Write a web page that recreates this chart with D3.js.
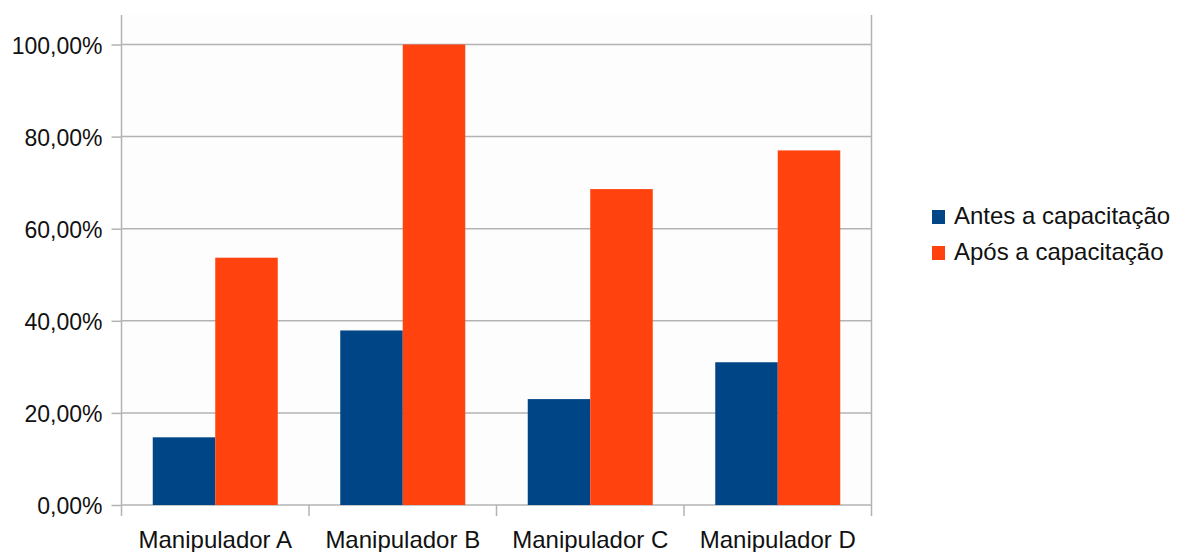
<!DOCTYPE html>
<html>
<head>
<meta charset="utf-8">
<script src="https://cdn.jsdelivr.net/npm/d3@7"></script>
<style>
  html, body { margin: 0; padding: 0; background: #ffffff; }
  svg { display: block; }
  text { font-family: "Liberation Sans", Arial, sans-serif; fill: #111; }
</style>
</head>
<body>
<svg id="chart" width="1179" height="552"></svg>
<script>
// Chart data
const categories = ["Manipulador A", "Manipulador B", "Manipulador C", "Manipulador D"];
const seriesNames = ["Antes a capacitação", "Após a capacitação"];
const antes = [0.147, 0.379, 0.230, 0.310];
const apos  = [0.537, 1.000, 0.686, 0.770];
const yTicks = [0, 0.2, 0.4, 0.6, 0.8, 1.0];
const colors = ["#004586", "#ff420e"];

const svg = d3.select("#chart");

// Plot frame
const left = 121.5, right = 871.5, frameTop = 15, bottom = 505;

const x0 = d3.scaleBand().domain(categories).range([left, right]).paddingInner(0).paddingOuter(0);
const x1 = d3.scaleBand().domain(seriesNames)
  .range([x0.bandwidth() / 6, x0.bandwidth() * 5 / 6]).padding(0);
const y = d3.scaleLinear().domain([0, 1]).range([bottom, 44.5]);

const fmt = v => d3.format(".2f")(v * 100).replace(".", ",") + "%";

// Plot background
svg.append("rect")
  .attr("x", left).attr("y", frameTop)
  .attr("width", right - left).attr("height", bottom - frameTop)
  .attr("fill", "#fdfdfd");

// Horizontal grid lines
svg.append("g")
  .selectAll("line")
  .data(yTicks)
  .join("line")
  .attr("x1", left).attr("x2", right)
  .attr("y1", d => y(d)).attr("y2", d => y(d))
  .attr("stroke", "#b3b3b3").attr("stroke-width", 1.5);

// Bars
const rows = categories.map((c, i) => ({ cat: c, values: [antes[i], apos[i]] }));
svg.append("g")
  .selectAll("g")
  .data(rows)
  .join("g")
  .attr("transform", d => `translate(${x0(d.cat)},0)`)
  .selectAll("rect")
  .data(d => d.values.map((v, j) => ({ name: seriesNames[j], v, j })))
  .join("rect")
  .attr("x", d => x1(d.name))
  .attr("width", x1.bandwidth())
  .attr("y", d => y(d.v))
  .attr("height", d => bottom - y(d.v))
  .attr("fill", d => colors[d.j]);

// Y axis
const yAxis = d3.axisLeft(y).tickValues(yTicks).tickFormat(fmt).tickSize(10).tickPadding(9);
const gy = svg.append("g").attr("transform", `translate(${left},0)`).call(yAxis);
gy.select(".domain").remove();
gy.selectAll(".tick line").attr("stroke", "#b3b3b3").attr("stroke-width", 1.5);
gy.selectAll(".tick text")
  .attr("font-family", "Liberation Sans, Arial, sans-serif")
  .attr("font-size", 23).attr("fill", "#111").attr("dy", "0.38em");

// Vertical frame lines (left axis and right border), extending to category ticks
svg.append("g")
  .selectAll("line")
  .data([left, right])
  .join("line")
  .attr("x1", d => d).attr("x2", d => d)
  .attr("y1", frameTop).attr("y2", bottom + 11)
  .attr("stroke", "#b3b3b3").attr("stroke-width", 1.5);

// X axis (category separators and labels)
const xAxis = d3.axisBottom(x0).tickSize(0).tickPadding(0);
const gx = svg.append("g").attr("transform", `translate(0,${bottom})`).call(xAxis);
gx.select(".domain").remove();
gx.selectAll(".tick text")
  .attr("font-family", "Liberation Sans, Arial, sans-serif")
  .attr("font-size", 24).attr("fill", "#111")
  .attr("y", 43).attr("dy", 0);

svg.append("g")
  .selectAll("line")
  .data(categories.slice(1))
  .join("line")
  .attr("x1", d => x0(d)).attr("x2", d => x0(d))
  .attr("y1", bottom).attr("y2", bottom + 11)
  .attr("stroke", "#b3b3b3").attr("stroke-width", 1.5);

// Legend
const legend = svg.append("g").attr("transform", "translate(932,210)");
const li = legend.selectAll("g")
  .data(seriesNames)
  .join("g")
  .attr("transform", (d, i) => `translate(0,${i * 36})`);
li.append("rect")
  .attr("width", 13).attr("height", 14)
  .attr("fill", (d, i) => colors[i]);
li.append("text")
  .attr("x", 22).attr("y", 14)
  .attr("font-size", 24)
  .text(d => d);
</script>
</body>
</html>
